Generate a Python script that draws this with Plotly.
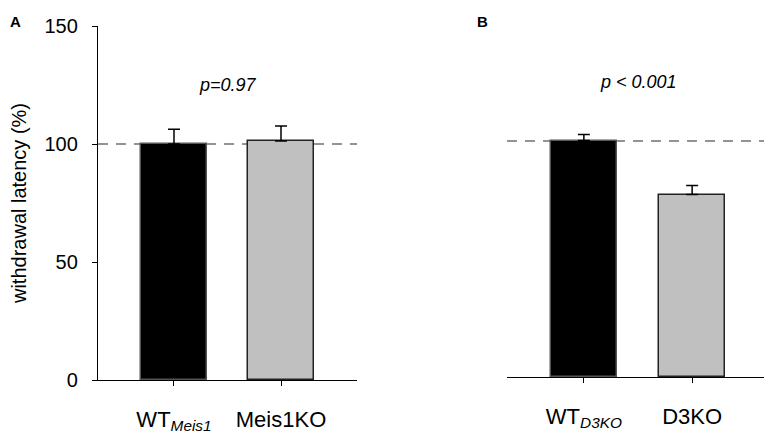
import plotly.graph_objects as go
from plotly.subplots import make_subplots

# painel A
grupos_a = ["WT<sub><i>Meis1</i></sub>", "Meis1KO"]
medias_a = [100.0, 101.3]
erros_a = [6.2, 6.3]
texto_p_a = "<i>p=0.97</i>"

# painel B
grupos_b = ["WT<sub><i>D3KO</i></sub>", "D3KO"]
medias_b = [100.2, 77.3]
erros_b = [2.6, 3.8]
texto_p_b = "<i>p < 0.001</i>"

referencia = 100
cores = ["#000000", "#c0c0c0"]
fonte = "Liberation Sans, Arial, sans-serif"

# a pagina tem 8px de margem no body, por isso a figura e 8px menor
W, H = 764, 430

fig = make_subplots(rows=1, cols=2)

for col, medias, erros in [(1, medias_a, erros_a), (2, medias_b, erros_b)]:
    fig.add_trace(go.Bar(
        x=[0, 1],
        y=medias,
        width=0.61,
        marker=dict(color=cores, line=dict(color=["#555555", "#222222"], width=1.5)),
        error_y=dict(type="data", array=erros, arrayminus=[0, 0], symmetric=False,
                     color="black", thickness=1.5, width=6),
        showlegend=False,
        hoverinfo="y",
    ), row=1, col=col)

# linha tracejada em 100%
for xr, yr in [("x domain", "y"), ("x2 domain", "y2")]:
    fig.add_shape(type="line", xref=xr, yref=yr, x0=0, x1=1, y0=referencia, y1=referencia,
                  line=dict(color="#707070", width=1.5, dash="10px,8px"), layer="below")

eixo_x = dict(range=[-0.71, 1.71], showline=True, linecolor="black", linewidth=1.3,
              ticks="outside", ticklen=5, tickwidth=1.3, tickcolor="black",
              tickvals=[0, 1], showgrid=False, zeroline=False, ticklabelstandoff=14,
              tickfont=dict(family=fonte, size=22, color="black"))

fig.update_xaxes(eixo_x, row=1, col=1)
fig.update_xaxes(eixo_x, row=1, col=2)
fig.update_layout(
    xaxis=dict(domain=[90 / W, 349 / W], ticktext=grupos_a),
    xaxis2=dict(domain=[499 / W, 761 / W], ticktext=grupos_b),
    yaxis=dict(domain=[0, 354 / 357], range=[0, 150], tickvals=[0, 50, 100, 150],
               showline=True, linecolor="black", linewidth=1.3, ticks="outside",
               ticklen=5, tickwidth=1.3, tickcolor="black", showgrid=False, zeroline=False,
               ticklabelstandoff=10,
               tickfont=dict(family=fonte, size=20, color="black"),
               title=dict(text="withdrawal latency (%)", standoff=18,
                          font=dict(family=fonte, size=20, color="black"))),
    yaxis2=dict(domain=[3 / 357, 1], range=[0, 150], visible=False),
    plot_bgcolor="white",
    paper_bgcolor="white",
    width=W, height=H,
    margin=dict(l=0, r=0, t=15, b=58),
    bargap=0,
    annotations=[
        dict(text=texto_p_a, xref="x", yref="y", x=0.5, y=125, showarrow=False,
             font=dict(family=fonte, size=18, color="black"), xanchor="center"),
        dict(text=texto_p_b, xref="x2", yref="y2", x=0.5, y=125, showarrow=False,
             font=dict(family=fonte, size=18, color="black"), xanchor="center"),
        dict(text="<b>A</b>", xref="paper", yref="paper", x=0, y=1.035,
             showarrow=False, xanchor="left", yanchor="top",
             font=dict(family=fonte, size=15, color="black")),
        dict(text="<b>B</b>", xref="paper", yref="paper", x=467 / W, y=1.035,
             showarrow=False, xanchor="left", yanchor="top",
             font=dict(family=fonte, size=15, color="black")),
    ],
)

fig.write_html("out.html")
